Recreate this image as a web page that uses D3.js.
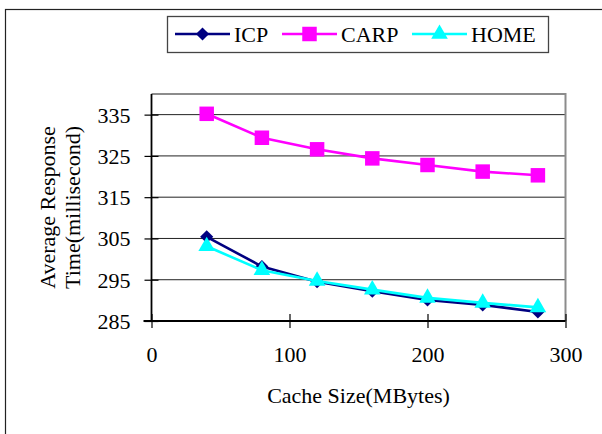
<!DOCTYPE html>
<html>
<head>
<meta charset="utf-8">
<script src="https://cdn.jsdelivr.net/npm/d3@7"></script>
<style>
  html, body { margin: 0; padding: 0; background: #fff; }
  svg { display: block; }
  text { font-family: "Liberation Serif", "Times New Roman", serif; fill: #000; }
</style>
</head>
<body>
<svg id="chart" width="602" height="434"></svg>
<script>
// Cache size (MBytes) on the x axis
const cacheSizes = [40, 80, 120, 160, 200, 240, 280];
// Average response time (ms) per scheme
const icpValues  = [305.4, 298.2, 294.5, 292.2, 290.1, 288.9, 287.2];
const carpValues = [335.2, 329.4, 326.6, 324.4, 322.8, 321.2, 320.3];
const homeValues = [303.1, 297.3, 294.7, 292.6, 290.6, 289.4, 288.3];
const xTicks = [0, 100, 200, 300];
const yTicks = [285, 295, 305, 315, 325, 335];

const series = [
  { name: "ICP",  values: icpValues,  color: "#000080", shape: "diamond" },
  { name: "CARP", values: carpValues, color: "#FF00FF", shape: "square" },
  { name: "HOME", values: homeValues, color: "#00FFFF", shape: "triangle" }
];

const svg = d3.select("#chart");
const plot = { left: 151.5, right: 565.5, top: 94, bottom: 321 };

const x = d3.scaleLinear().domain([0, 300]).range([plot.left, plot.right]);
const y = d3.scaleLinear().domain([285, 340]).range([plot.bottom, plot.top]);

// outer frame (runs off the right and bottom edges)
svg.append("rect")
  .attr("x", 5.5).attr("y", 9.5).attr("width", 640).attr("height", 460)
  .attr("fill", "none").attr("stroke", "#222").attr("stroke-width", 1.2);

// gridlines
svg.append("g").selectAll("line").data(yTicks.slice(1)).join("line")
  .attr("x1", plot.left).attr("x2", plot.right)
  .attr("y1", d => y(d)).attr("y2", d => y(d))
  .attr("stroke", "#222").attr("stroke-width", 1);

// plot border: grey top and right
svg.append("path")
  .attr("d", `M${plot.left},${plot.top}H${plot.right}V${plot.bottom}`)
  .attr("fill", "none").attr("stroke", "#8c8c8c").attr("stroke-width", 2);

// y axis
const yAxis = svg.append("g")
  .attr("transform", `translate(${plot.left},0)`)
  .call(d3.axisLeft(y).tickValues(yTicks).tickSize(7).tickPadding(0).tickFormat(d3.format("d")));
yAxis.select(".domain").remove();
yAxis.selectAll(".tick line").attr("x1", 7).attr("x2", -7).attr("stroke", "#000").attr("stroke-width", 1.2);
yAxis.selectAll(".tick text")
  .attr("x", -21).attr("dy", "0.34em")
  .style("font-size", "22px").style("font-family", "Liberation Serif, serif");
yAxis.append("line")
  .attr("x1", 0).attr("x2", 0).attr("y1", y(340)).attr("y2", plot.bottom + 0.5)
  .attr("stroke", "#000").attr("stroke-width", 1.8);

// x axis
const xAxis = svg.append("g")
  .attr("transform", `translate(0,${plot.bottom})`)
  .call(d3.axisBottom(x).tickValues(xTicks).tickSize(7).tickPadding(0).tickFormat(d3.format("d")));
xAxis.select(".domain").remove();
xAxis.selectAll(".tick line").attr("y1", -7).attr("y2", 7).attr("stroke", "#000").attr("stroke-width", 1.2);
xAxis.selectAll(".tick text")
  .attr("y", 41).attr("dy", 0)
  .style("font-size", "22px").style("font-family", "Liberation Serif, serif");
xAxis.append("line")
  .attr("x1", plot.left - 8).attr("x2", plot.right).attr("y1", 0).attr("y2", 0)
  .attr("stroke", "#000").attr("stroke-width", 1.8);

// axis titles
svg.append("text")
  .attr("x", (plot.left + plot.right) / 2).attr("y", 403)
  .attr("text-anchor", "middle").style("font-size", "22px")
  .text("Cache Size(MBytes)");

const yTitle = svg.append("text")
  .attr("transform", `translate(55,${(plot.top + plot.bottom) / 2}) rotate(-90)`)
  .attr("text-anchor", "middle").style("font-size", "22px");
yTitle.append("tspan").attr("x", 0).attr("y", 0).text("Average Response");
yTitle.append("tspan").attr("x", 0).attr("y", 25).text("Time(millisecond)");

// marker shapes
const symbolFor = {
  diamond:  d3.symbol().type(d3.symbolDiamond2).size(110),
  square:   d3.symbol().type(d3.symbolSquare).size(210),
  triangle: d3.symbol().type(d3.symbolTriangle).size(120)
};

const line = d3.line().x((d, i) => x(cacheSizes[i])).y(d => y(d));

series.forEach(s => {
  const g = svg.append("g");
  g.append("path")
    .attr("d", line(s.values))
    .attr("fill", "none").attr("stroke", s.color).attr("stroke-width", 2.6)
    .attr("stroke-linejoin", "round");
  g.selectAll("path.mark").data(s.values).join("path")
    .attr("class", "mark")
    .attr("transform", (d, i) => `translate(${x(cacheSizes[i])},${y(d)})`)
    .attr("d", symbolFor[s.shape]())
    .attr("fill", s.color);
});

// legend
const legend = svg.append("g");
legend.append("rect")
  .attr("x", 167.5).attr("y", 16.5).attr("width", 381).attr("height", 36)
  .attr("fill", "#fff").attr("stroke", "#444").attr("stroke-width", 1.3);
const legendX = [175, 282, 412];
series.forEach((s, i) => {
  const g = legend.append("g").attr("transform", `translate(${legendX[i]},34)`);
  g.append("line").attr("x1", 0).attr("x2", 55).attr("y1", 0).attr("y2", 0)
    .attr("stroke", s.color).attr("stroke-width", 2.6);
  g.append("path").attr("transform", "translate(27.5,0)")
    .attr("d", symbolFor[s.shape]()).attr("fill", s.color);
  g.append("text").attr("x", 59).attr("y", 7.5)
    .style("font-size", "22px").text(s.name);
});
</script>
</body>
</html>
